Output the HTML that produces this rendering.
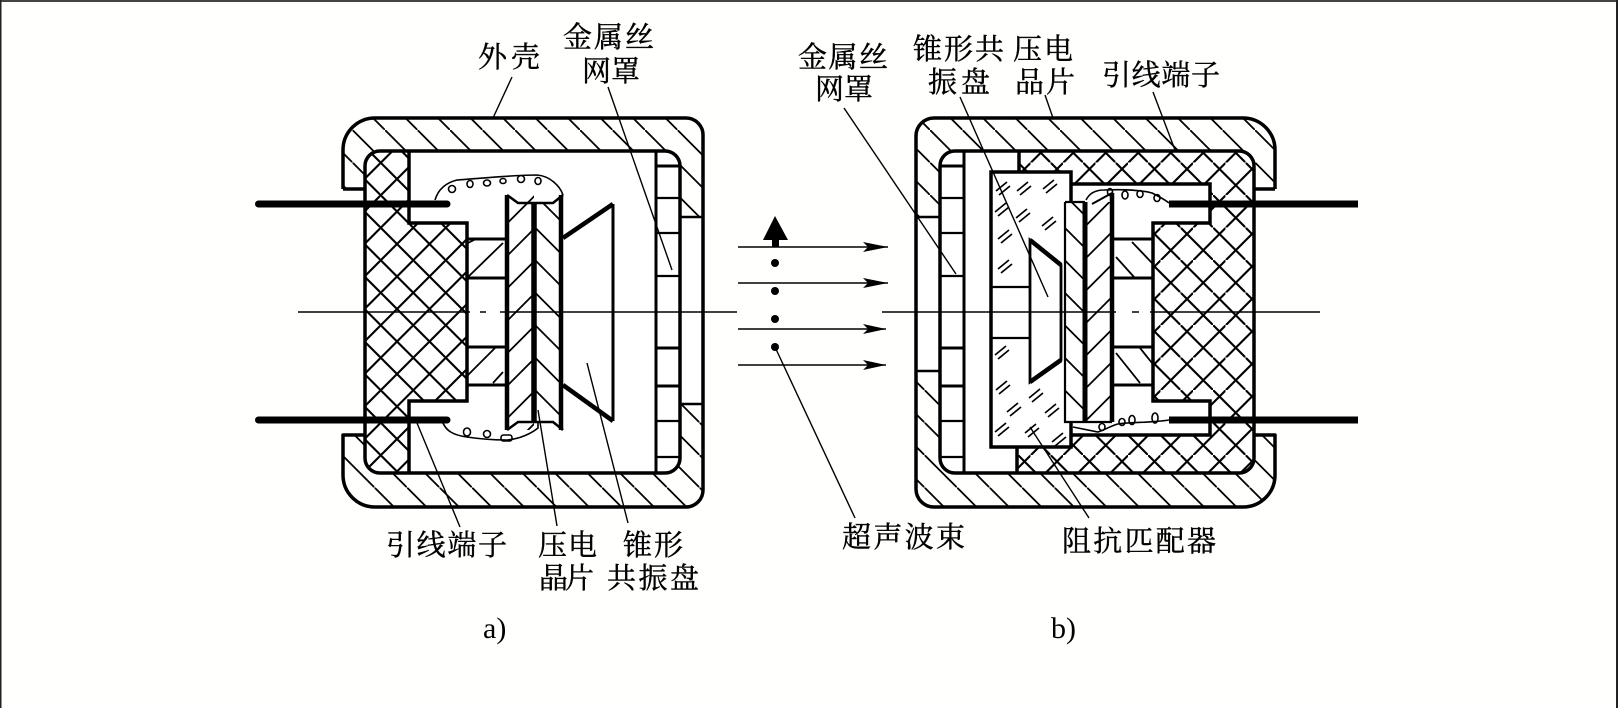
<!DOCTYPE html>
<html><head><meta charset="utf-8"><style>
html,body{margin:0;padding:0;background:#fff;width:1618px;height:708px;overflow:hidden}
svg{display:block}
.t{font-family:"Liberation Serif","Noto Serif CJK SC",serif;font-size:29px;fill:#000;stroke:#000;stroke-width:.4px}
.l{font-family:"Liberation Serif",serif;font-size:30px;fill:#000}
</style></head><body>
<svg width="1618" height="708" viewBox="0 0 1618 708" xmlns="http://www.w3.org/2000/svg">
<defs>
<pattern id="h1" width="32.5" height="32.5" patternUnits="userSpaceOnUse" patternTransform="translate(27.5 0)"><path d="M-5-5L38 38" stroke="#000" stroke-width="1.8"/></pattern>
<pattern id="h2" width="32.5" height="32.5" patternUnits="userSpaceOnUse" patternTransform="translate(17 0)"><path d="M-5-5L38 38" stroke="#000" stroke-width="1.8"/></pattern>
<pattern id="h3" width="32.5" height="32.5" patternUnits="userSpaceOnUse" patternTransform="translate(20 0)"><path d="M-5-5L38 38" stroke="#000" stroke-width="1.8"/></pattern>
<pattern id="h4" width="32.5" height="32.5" patternUnits="userSpaceOnUse" patternTransform="translate(14.5 0)"><path d="M-5-5L38 38" stroke="#000" stroke-width="1.8"/></pattern>
<pattern id="xa1" width="32.5" height="32.5" patternUnits="userSpaceOnUse" patternTransform="translate(23 0)"><path d="M-5-5L38 38" stroke="#000" stroke-width="2.1"/></pattern>
<pattern id="xa2" width="32.5" height="32.5" patternUnits="userSpaceOnUse" patternTransform="translate(23 0)"><path d="M38-5L-5 38" stroke="#000" stroke-width="2.1"/></pattern>
<pattern id="xb1" width="32.5" height="32.5" patternUnits="userSpaceOnUse" patternTransform="translate(10.5 0)"><path d="M-5-5L38 38" stroke="#000" stroke-width="2.1"/></pattern>
<pattern id="xb2" width="32.5" height="32.5" patternUnits="userSpaceOnUse" patternTransform="translate(23 0)"><path d="M38-5L-5 38" stroke="#000" stroke-width="2.1"/></pattern>
<pattern id="ca1" width="32.5" height="32.5" patternUnits="userSpaceOnUse" patternTransform="translate(15 0)"><path d="M38-5L-5 38" stroke="#000" stroke-width="1.8"/></pattern>
<pattern id="ca2" width="32.5" height="32.5" patternUnits="userSpaceOnUse" patternTransform="translate(15 0)"><path d="M-5-5L38 38" stroke="#000" stroke-width="1.8"/></pattern>
<pattern id="cb1" width="32.5" height="32.5" patternUnits="userSpaceOnUse" patternTransform="translate(24.5 0)"><path d="M-5-5L38 38" stroke="#000" stroke-width="1.8"/></pattern>
<pattern id="cb2" width="32.5" height="32.5" patternUnits="userSpaceOnUse" patternTransform="translate(11 0)"><path d="M38-5L-5 38" stroke="#000" stroke-width="1.8"/></pattern>
<clipPath id="outerA"><path d="M343 189V150A32 32 0 0 1 375 118H686A17 17 0 0 1 703 135V490A17 17 0 0 1 686 507H375A32 32 0 0 1 343 475V435H365V189Z"/></clipPath>
<clipPath id="outerB"><path d="M1275 189V150A32 32 0 0 0 1243 118H934A18 18 0 0 0 916 136V489A18 18 0 0 0 934 507H1243A32 32 0 0 0 1275 475V435H1254V189Z"/></clipPath>
<clipPath id="insA"><path d="M409 151V223H467V401H409V473H380A15 15 0 0 1 365 458V166A15 15 0 0 1 380 151Z"/></clipPath>
<clipPath id="insB"><path d="M1019 151V172H1071V184H1210V223H1153V401H1210V435H1071V447H1017V473H1239A15 15 0 0 0 1254 458V166A15 15 0 0 0 1239 151Z"/></clipPath>
</defs>
<rect width="1618" height="708" fill="#fffffe"/>
<rect x="0" y="0" width="1618" height="2" fill="#444"/>
<rect x="0" y="0" width="1.5" height="708" fill="#222"/>
<rect x="1616" y="0" width="2" height="708" fill="#222"/>

<!-- device A -->
<g clip-path="url(#outerA)">
<rect x="340" y="115" width="370" height="197" fill="url(#h1)"/>
<rect x="340" y="312" width="370" height="198" fill="url(#h2)"/>
</g>
<rect x="365" y="151" width="315" height="322" rx="15" fill="#fff"/>
<rect x="680" y="217" width="23" height="187" fill="#fff"/>
<g clip-path="url(#insA)">
<rect x="360" y="148" width="110" height="330" fill="url(#xa1)"/>
<rect x="360" y="148" width="110" height="330" fill="url(#xa2)"/>
</g>
<rect x="507" y="195" width="27" height="235" fill="url(#ca1)"/>
<rect x="534" y="203" width="29" height="219" fill="url(#ca2)"/>
<path d="M505 190H520L518 203H505ZM563 190H545L553 203H563ZM505 430H520L518 422H505ZM563 430H545L553 422H563Z" fill="#fff"/>
<path d="M468 277L503 243M466 244L474 240M468 375L495 348M493 383L503 372" stroke="#000" stroke-width="1.8" fill="none"/>
<path d="M343 189V150A32 32 0 0 1 375 118H686A17 17 0 0 1 703 135V490A17 17 0 0 1 686 507H375A32 32 0 0 1 343 475V435H365M343 189H365" fill="none" stroke="#000" stroke-width="3.5" stroke-linejoin="round"/>
<rect x="365" y="151" width="315" height="322" rx="15" fill="none" stroke="#000" stroke-width="3.5"/>
<path d="M409 151V223H467V401H409V473" fill="none" stroke="#000" stroke-width="3.5"/>
<path d="M680 217H703M680 404H703" stroke="#000" stroke-width="2.5"/>
<path d="M656 151V473" stroke="#000" stroke-width="3"/>
<path d="M656 166H680M656 386H680M656 348H680" stroke="#000" stroke-width="3"/>
<path d="M656 198H680M656 233H680M656 276H680M656 421H680M656 457H680" stroke="#000" stroke-width="2.2"/>
<path d="M467 239H505M467 278H505M467 347H505M467 385H505" stroke="#000" stroke-width="3"/>
<path d="M507 195V430M561 195V430" stroke="#000" stroke-width="4.5"/>
<path d="M534 203V422" stroke="#000" stroke-width="5.5"/>
<path d="M507 195L518 203H553L563 195M507 430L518 422H553L563 430" fill="none" stroke="#000" stroke-width="2.5"/>
<path d="M563 238L613 204" stroke="#000" stroke-width="4.5"/>
<path d="M563 385L613 421" stroke="#000" stroke-width="4.5"/>
<path d="M613 204V421" stroke="#000" stroke-width="3"/>
<path d="M258.5 204H447M258.5 420H447" stroke="#000" stroke-width="7" stroke-linecap="round"/>
<g fill="none" stroke="#000" stroke-width="1.6">
<path d="M435 200C438 190 445 183 457 180C485 178 515 175 537 175C550 176 560 186 563 195"/>
<ellipse cx="452" cy="189" rx="3.5" ry="3.5"/><ellipse cx="470" cy="184" rx="3" ry="3.5"/><ellipse cx="487" cy="183" rx="3.5" ry="3"/><ellipse cx="503" cy="181" rx="3" ry="2.5"/><ellipse cx="521" cy="179" rx="3.5" ry="3.5"/><ellipse cx="538" cy="181" rx="3" ry="3.5"/>
<path d="M443 423C446 430 452 435 467 437C480 439 495 440 507 440C520 439 532 433 538 428V422"/>
<ellipse cx="467" cy="432" rx="3.5" ry="4"/><ellipse cx="487" cy="434" rx="3.5" ry="3.5"/><rect x="501" y="435" width="11" height="6" rx="2.5"/>
</g>

<!-- device B -->
<g clip-path="url(#outerB)">
<rect x="910" y="115" width="370" height="197" fill="url(#h3)"/>
<rect x="910" y="312" width="370" height="198" fill="url(#h4)"/>
</g>
<rect x="940" y="151" width="314" height="322" rx="15" fill="#fff"/>
<path d="M916 217H940V371H916Z" fill="#fff"/>
<g clip-path="url(#insB)">
<rect x="1010" y="148" width="250" height="330" fill="url(#xb1)"/>
<rect x="1010" y="148" width="250" height="330" fill="url(#xb2)"/>
</g>
<path d="M1132 242L1152 263M1116 257L1134 277M1116 353L1140 383M1140 348L1152 363" stroke="#000" stroke-width="1.8" fill="none"/>
<path d="M1275 189V150A32 32 0 0 0 1243 118H934A18 18 0 0 0 916 136V489A18 18 0 0 0 934 507H1243A32 32 0 0 0 1275 475V435H1254M1275 189H1254" fill="none" stroke="#000" stroke-width="3.5" stroke-linejoin="round"/>
<rect x="940" y="151" width="314" height="322" rx="15" fill="none" stroke="#000" stroke-width="3.5"/>
<path d="M916 217H940M916 371H940" stroke="#000" stroke-width="2.5"/>
<path d="M964 151V473" stroke="#000" stroke-width="3"/>
<path d="M940 166H964M940 386H964M940 348H964" stroke="#000" stroke-width="3"/>
<path d="M940 198H964M940 233H964M940 276H964M940 421H964M940 457H964" stroke="#000" stroke-width="2.2"/>
<path d="M1019 151V172M1017 447V473" stroke="#000" stroke-width="3.5"/>
<rect x="991" y="172" width="80" height="275" fill="#fff" stroke="#000" stroke-width="3.5"/>
<path d="M991 287H1030M991 338H1030" stroke="#000" stroke-width="2.2"/>
<path d="M1071 184H1210V223H1153V401H1210V435H1071" fill="none" stroke="#000" stroke-width="3.5"/>
<rect x="1065" y="202" width="48" height="220" fill="#fff"/>
<rect x="1065" y="202" width="20" height="220" fill="url(#cb1)"/>
<rect x="1087" y="202" width="25" height="220" fill="url(#cb2)"/>
<path d="M1086 200C1089 194 1094 190 1104 190C1125 189 1140 190 1152 193C1158 196 1164 199 1169 203" fill="none" stroke="#000" stroke-width="1.6"/>
<path d="M1065 202H1085M1065 202V422H1112" fill="none" stroke="#000" stroke-width="2.2"/>
<path d="M1085 202V422" stroke="#000" stroke-width="5"/>
<path d="M1112 193V422" stroke="#000" stroke-width="4.5"/>
<path d="M1092 204L1112 193" stroke="#000" stroke-width="2"/>
<path d="M1114 239H1153M1114 278H1153M1114 347H1153M1114 385H1153" stroke="#000" stroke-width="3"/>
<path d="M1030 240L1061 265V360L1030 382Z" fill="#fff" stroke="#000" stroke-width="2.8" stroke-linejoin="miter"/>
<path d="M1030 240L1061 265M1030 382L1061 360" stroke="#000" stroke-width="4.5"/>
<path d="M1169 204H1358M1169 420H1358" stroke="#000" stroke-width="7"/>
<g fill="none" stroke="#000" stroke-width="1.6">
<ellipse cx="1110" cy="192" rx="2.5" ry="3.5"/><ellipse cx="1125" cy="195" rx="3" ry="4"/><ellipse cx="1140" cy="194" rx="3" ry="3.5"/><ellipse cx="1157" cy="198" rx="3" ry="3.5"/>
<path d="M1073 427L1098 432C1105 430 1110 426 1118 424C1130 422 1150 423 1169 420"/>
<ellipse cx="1102" cy="427" rx="3" ry="3.5"/><ellipse cx="1122" cy="422" rx="3" ry="3.5"/><ellipse cx="1132" cy="420" rx="3" ry="4.5"/><ellipse cx="1155" cy="418" rx="3" ry="5"/>
</g>
<path stroke="#000" stroke-width="1.7" fill="none" d="M996 191l11-9m-8 13l11-9M1017 191l11-9m-8 13l11-9M1043 189l11-9m-8 13l11-9M995 212l11-9m-8 13l11-9M1016 218l11-9m-8 13l11-9M1042 226l11-9m-8 13l11-9M998 239l11-9m-8 13l11-9M998 269l11-9m-8 13l11-9M995 355l11-9m-8 13l11-9M996 390l11-9m-8 13l11-9M1029 398l11-9m-8 13l11-9M1007 412l11-9m-8 13l11-9M1045 413l11-9m-8 13l11-9M995 432l11-9m-8 13l11-9M1025 433l11-9m-8 13l11-9M1052 442l11-9m-8 13l11-9"/>

<!-- centre lines -->
<path d="M298 312H470M480 312H486M500 312H737" stroke="#000" stroke-width="1.5"/>
<path d="M882 312H1116M1132 312H1139M1150 312H1320" stroke="#000" stroke-width="1.5"/>

<!-- beam -->
<g stroke="#000" stroke-width="1.5">
<path d="M738 247H888M738 283H888M738 329H886M738 365H886"/>
</g>
<g fill="#000">
<path d="M863 242L888 247L863 252L868 247Z"/><path d="M863 278L888 283L863 288L868 283Z"/><path d="M863 324L886 329L863 334L868 329Z"/><path d="M863 360L886 365L863 370L868 365Z"/>
<path d="M775 216L788 240H779V247H772V240H763Z"/>
<circle cx="775" cy="263" r="4"/><circle cx="775" cy="291" r="4"/><circle cx="775" cy="319" r="4"/><circle cx="775" cy="347" r="4"/>
</g>

<!-- leaders -->
<g stroke="#000" stroke-width="1.4" fill="none">
<path d="M512 77L493 118"/>
<path d="M608 87L672 270"/>
<path d="M417 423L460 527"/>
<path d="M538 410L557 526"/>
<path d="M587 363L628 523"/>
<path d="M844 108L956 274"/>
<path d="M960 97L1048 297"/>
<path d="M1045 95L1053 118"/>
<path d="M1153 92L1175 150"/>
<path d="M775 347L855 518"/>
<path d="M1030 427L1089 518"/>
</g>

<!-- labels -->
<text class="t" x="478" y="67" textLength="62" lengthAdjust="spacing">外壳</text>
<text class="t" x="563" y="47" textLength="91" lengthAdjust="spacing">金属丝</text>
<text class="t" x="582" y="81" textLength="58" lengthAdjust="spacing">网罩</text>
<text class="t" x="798" y="67" textLength="90" lengthAdjust="spacing">金属丝</text>
<text class="t" x="815" y="99" textLength="58" lengthAdjust="spacing">网罩</text>
<text class="t" x="913" y="59" textLength="91" lengthAdjust="spacing">锥形共</text>
<text class="t" x="928" y="92" textLength="62" lengthAdjust="spacing">振盘</text>
<text class="t" x="1013" y="59" textLength="60" lengthAdjust="spacing">压电</text>
<text class="t" x="1015" y="92" textLength="60" lengthAdjust="spacing">品片</text>
<text class="t" x="1102" y="85" textLength="118" lengthAdjust="spacing">引线端子</text>
<text class="t" x="386" y="555" textLength="121" lengthAdjust="spacing">引线端子</text>
<text class="t" x="538" y="555" textLength="59" lengthAdjust="spacing">压电</text>
<text class="t" x="539" y="588" textLength="55" lengthAdjust="spacing">晶片</text>
<text class="t" x="623" y="555" textLength="60" lengthAdjust="spacing">锥形</text>
<text class="t" x="607" y="588" textLength="92" lengthAdjust="spacing">共振盘</text>
<text class="t" x="842" y="547" textLength="123" lengthAdjust="spacing">超声波束</text>
<text class="t" x="1062" y="551" textLength="154" lengthAdjust="spacing">阻抗匹配器</text>
<text class="l" x="483" y="638">a)</text>
<text class="l" x="1051" y="638">b)</text>
</svg>
</body></html>
